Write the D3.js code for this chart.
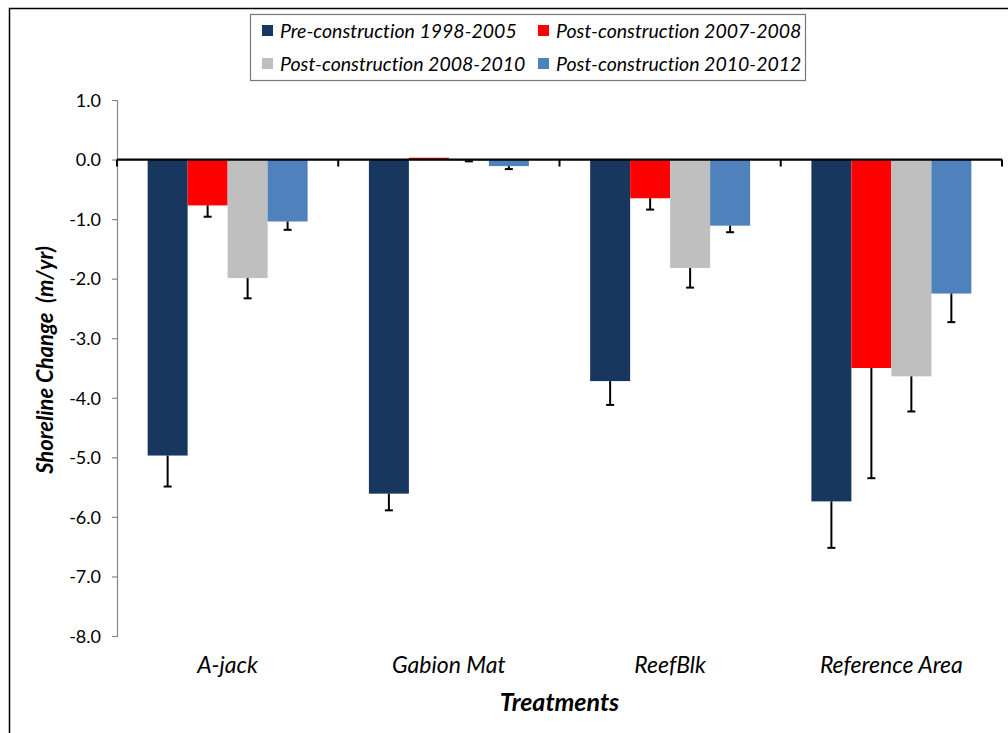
<!DOCTYPE html>
<html>
<head>
<meta charset="utf-8">
<script src="https://cdn.jsdelivr.net/npm/d3@7"></script>
<style>
  body { margin: 0; background: #fff; }
  svg text { font-family: Lato, "Open Sans", sans-serif; fill: #000; font-variant-ligatures: none; }
</style>
</head>
<body>
<svg id="chart" width="1008" height="733"></svg>
<script>
// categories and series
var treatments = ["A-jack", "Gabion Mat", "ReefBlk", "Reference Area"];
var seriesNames = ["Pre-construction 1998-2005", "Post-construction 2007-2008",
                   "Post-construction 2008-2010", "Post-construction 2010-2012"];
var seriesColors = ["#17375E", "#FF0000", "#BFBFBF", "#4F81BD"];

// mean shoreline change (m/yr), one array per series, in treatment order
var pre9805  = [-4.97, -5.61, -3.72, -5.74];
var post0708 = [-0.77,  0.03, -0.65, -3.50];
var post0810 = [-1.99, -0.02, -1.82, -3.64];
var post1012 = [-1.04, -0.11, -1.11, -2.25];

// lower end of error bars
var pre9805Err  = [-5.49, -5.89, -4.12, -6.52];
var post0708Err = [-0.96,  0.03, -0.84, -5.35];
var post0810Err = [-2.33, -0.03, -2.15, -4.23];
var post1012Err = [-1.18, -0.16, -1.22, -2.73];

var yTicks = [1, 0, -1, -2, -3, -4, -5, -6, -7, -8];

var values = [pre9805, post0708, post0810, post1012];
var errs = [pre9805Err, post0708Err, post0810Err, post1012Err];

var svg = d3.select("#chart");
var margin = {left: 117, right: 1002, top: 100, bottom: 636};

// outer frame
svg.append("rect")
    .attr("x", 9.5).attr("y", 8.5)
    .attr("width", 1010).attr("height", 740)
    .attr("fill", "none").attr("stroke", "#000").attr("stroke-width", 1.5);

var y = d3.scaleLinear().domain([-8, 1]).range([margin.bottom, margin.top]);
var x0 = d3.scaleBand().domain(treatments)
    .range([margin.left, margin.right])
    .paddingInner(0.277).paddingOuter(0.1385);
var x1 = d3.scaleBand().domain(d3.range(4)).range([0, x0.bandwidth()]);

// y axis (plain hyphen for the minus, like the original)
var fmt = d3.format(".1f");
var yAxis = d3.axisLeft(y).tickValues(yTicks)
    .tickFormat(function(d) { return fmt(d).replace("\u2212", "-"); })
    .tickSize(5);
var gy = svg.append("g").attr("transform", "translate(" + margin.left + ",0)").call(yAxis);
gy.selectAll("path, line").attr("stroke", "#888").attr("stroke-width", 1.2);
gy.selectAll("text").attr("font-size", 18).attr("x", -16).attr("dy", "0.35em");

// bars
var rows = [];
treatments.forEach(function(t, i) {
    values.forEach(function(s, j) {
        rows.push({cat: t, k: j, v: s[i], e: errs[j][i]});
    });
});

var g = svg.append("g");
g.selectAll("rect.bar")
    .data(rows)
    .enter()
    .append("rect")
    .attr("class", "bar")
    .attr("x", function(d) { return x0(d.cat) + x1(d.k); })
    .attr("width", x1.bandwidth())
    .attr("y", function(d) { return y(Math.max(0, d.v)); })
    .attr("height", function(d) { return Math.abs(y(d.v) - y(0)); })
    .attr("fill", function(d) { return seriesColors[d.k]; });

// error bars
var eb = g.selectAll("g.err")
    .data(rows.filter(function(d) { return d.e < d.v; }))
    .enter()
    .append("g")
    .attr("class", "err");
eb.append("line")
    .attr("x1", function(d) { return x0(d.cat) + x1(d.k) + x1.bandwidth() / 2; })
    .attr("x2", function(d) { return x0(d.cat) + x1(d.k) + x1.bandwidth() / 2; })
    .attr("y1", function(d) { return y(d.v); })
    .attr("y2", function(d) { return y(d.e); })
    .attr("stroke", "#000").attr("stroke-width", 2);
eb.append("line")
    .attr("x1", function(d) { return x0(d.cat) + x1(d.k) + x1.bandwidth() / 2 - 4; })
    .attr("x2", function(d) { return x0(d.cat) + x1(d.k) + x1.bandwidth() / 2 + 4; })
    .attr("y1", function(d) { return y(d.e); })
    .attr("y2", function(d) { return y(d.e); })
    .attr("stroke", "#000").attr("stroke-width", 2);

// zero line with category ticks
var bounds = d3.range(5).map(function(i) { return margin.left + i * x0.step(); });
svg.append("line")
    .attr("x1", margin.left).attr("x2", margin.right)
    .attr("y1", y(0)).attr("y2", y(0))
    .attr("stroke", "#000").attr("stroke-width", 2.2);
svg.selectAll("line.ctick")
    .data(bounds)
    .enter()
    .append("line")
    .attr("class", "ctick")
    .attr("x1", function(d) { return d; }).attr("x2", function(d) { return d; })
    .attr("y1", y(0)).attr("y2", y(0) + 7)
    .attr("stroke", "#000").attr("stroke-width", 2);

// category labels
svg.selectAll("text.cat")
    .data(treatments)
    .enter()
    .append("text")
    .attr("class", "cat")
    .attr("x", function(d) { return x0(d) + x0.bandwidth() / 2; })
    .attr("y", 673)
    .attr("text-anchor", "middle")
    .attr("font-size", 23)
    .attr("font-style", "italic")
    .text(function(d) { return d; });

// axis titles
svg.append("text")
    .attr("x", (margin.left + margin.right) / 2)
    .attr("y", 711)
    .attr("text-anchor", "middle")
    .attr("font-size", 25)
    .attr("font-weight", "bold")
    .attr("font-style", "italic")
    .text("Treatments");

svg.append("text")
    .attr("transform", "translate(53,360) rotate(-90)")
    .attr("text-anchor", "middle")
    .attr("font-size", 22)
    .attr("font-weight", "bold")
    .attr("font-style", "italic")
    .attr("xml:space", "preserve")
    .text("Shoreline Change  (m/yr)");

// legend
var legend = svg.append("g");
legend.append("rect")
    .attr("x", 250.5).attr("y", 14.5)
    .attr("width", 555).attr("height", 66)
    .attr("fill", "#fff").attr("stroke", "#777").attr("stroke-width", 1.2);
var li = legend.selectAll("g.item")
    .data(seriesNames)
    .enter()
    .append("g")
    .attr("class", "item")
    .attr("transform", function(d, i) {
        return "translate(" + (i % 2 === 0 ? 262 : 538) + "," + (i < 2 ? 31 : 64) + ")";
    });
li.append("rect")
    .attr("x", 0).attr("y", -6)
    .attr("width", 11).attr("height", 11)
    .attr("fill", function(d, i) { return seriesColors[i]; });
li.append("text")
    .attr("x", 18).attr("y", 0)
    .attr("dy", "0.35em")
    .attr("font-size", 19.5)
    .attr("font-style", "italic")
    .text(function(d) { return d; });
</script>
</body>
</html>
